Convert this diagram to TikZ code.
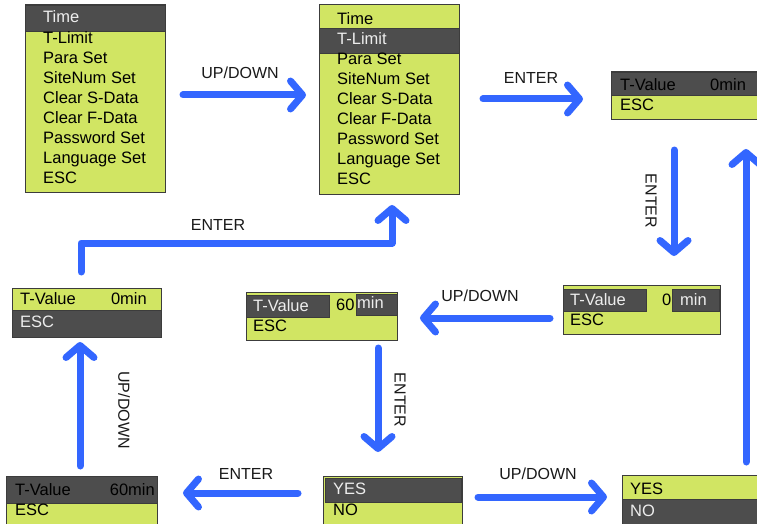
\documentclass[tikz,border=0pt]{standalone}
\usepackage{fontspec}
\setmainfont{Liberation Sans}
\usetikzlibrary{arrows.meta}
\definecolor{lcd}{RGB}{209,229,99}
\definecolor{band}{RGB}{77,77,77}
\definecolor{edge}{RGB}{60,60,60}
\definecolor{flowblue}{RGB}{51,102,255}
\tikzset{
  menubox/.style={fill=lcd,draw=edge,line width=1pt},
  darkband/.style={fill=band,draw=edge,line width=0.8pt},
  txt/.style={anchor=west,inner sep=0pt,text height=11.8pt,text depth=0pt,font=\fontsize{16.5}{19}\selectfont,text=black},
  wtxt/.style={txt,text=white!93!black},
  lbl/.style={inner sep=0pt,font=\fontsize{16}{19}\selectfont,text=black!90},
  flow/.style={draw=flowblue,line width=7pt,line cap=round,line join=round,
    -{Straight Barb[round,length=12pt,width=28pt]}},
}
\begin{document}
\begin{tikzpicture}[x=1pt,y=-1pt]
\clip (0,0) rectangle (757,524);
\fill[white] (0,0) rectangle (757,524);
% Box A
\filldraw[menubox] (25,5) rectangle (165,192);
\filldraw[darkband] (25,5) rectangle (165,31);
\node[wtxt] (a1) at (43,17) {Time};
\node[txt] (a2) at (43,38) {T-Limit};
\node[txt] (a3) at (43,58) {Para Set};
\node[txt] (a4) at (43,78) {SiteNum Set};
\node[txt] (a5) at (43,98) {Clear S-Data};
\node[txt] (a6) at (43,118) {Clear F-Data};
\node[txt] (a7) at (43,138) {Password Set};
\node[txt] (a8) at (43,158) {Language Set};
\node[txt] (a9) at (43,178) {ESC};
% Box B
\filldraw[menubox] (319,5) rectangle (459,194);
\filldraw[darkband] (319,28) rectangle (459,53);
\node[txt] (b1) at (337,19) {Time};
\node[wtxt] (b2) at (337,39) {T-Limit};
\node[txt] (b3) at (337,59) {Para Set};
\node[txt] (b4) at (337,79) {SiteNum Set};
\node[txt] (b5) at (337,99) {Clear S-Data};
\node[txt] (b6) at (337,119) {Clear F-Data};
\node[txt] (b7) at (337,139) {Password Set};
\node[txt] (b8) at (337,159) {Language Set};
\node[txt] (b9) at (337,179) {ESC};
% Box C
\filldraw[menubox] (611,72) rectangle (770,120);
\filldraw[darkband] (611,72) rectangle (770,95);
\node[txt] (c1) at (620,85) {T-Value};
\node[txt] (c2) at (710,85) {0min};
\node[txt] (c3) at (620,105) {ESC};
% Box D
\filldraw[menubox] (563,285) rectangle (720,334);
\filldraw[darkband] (563,289) rectangle (646,311);
\filldraw[darkband] (672,289) rectangle (719,311);
\node[wtxt] (d1) at (570,300) {T-Value};
\node[txt] (d2) at (662,300) {0};
\node[wtxt] (d3) at (680,300) {min};
\node[txt] (d4) at (570,320) {ESC};
% Box E
\filldraw[menubox] (246,292) rectangle (397,340);
\filldraw[darkband] (246,295) rectangle (329,317);
\filldraw[darkband] (356,294) rectangle (397,315);
\node[wtxt] (e1) at (253,306) {T-Value};
\node[txt] (e2) at (336,305) {60};
\node[wtxt] (e3) at (357,303) {min};
\node[txt] (e4) at (253,326) {ESC};
% Box F
\filldraw[menubox] (12,288) rectangle (161,337);
\filldraw[darkband] (12,310) rectangle (161,337);
\node[txt] (f1) at (20,299) {T-Value};
\node[txt,anchor=east] (f2) at (147,299) {0min};
\node[wtxt] (f3) at (20,322) {ESC};
% Box G
\filldraw[menubox] (6,476) rectangle (157,530);
\filldraw[darkband] (6,476) rectangle (157,503);
\node[txt] (g1) at (15,490) {T-Value};
\node[txt,anchor=east] (g2) at (155,490) {60min};
\node[txt] (g3) at (15,510) {ESC};
% Box H
\filldraw[menubox] (323,476) rectangle (462,530);
\filldraw[darkband] (325,478) rectangle (461,502);
\node[wtxt] (h1) at (333,489) {YES};
\node[txt] (h2) at (333,510) {NO};
% Box I
\filldraw[menubox] (622,475) rectangle (770,530);
\filldraw[darkband] (622,499) rectangle (770,530);
\node[txt] (i1) at (630,489) {YES};
\node[wtxt] (i2) at (630,511) {NO};
% arrow end points
\coordinate (p1s) at (183,95);  \coordinate (p1e) at (306,95);
\coordinate (p2s) at (483,99);  \coordinate (p2e) at (583,99);
\coordinate (p3s) at (674,150); \coordinate (p3e) at (674,256);
\coordinate (p4s) at (746,462); \coordinate (p4e) at (746,149);
\coordinate (p5s) at (550,318); \coordinate (p5e) at (420,318);
\coordinate (p6s) at (378,348); \coordinate (p6e) at (378,452);
\coordinate (p7s) at (478,497); \coordinate (p7e) at (607,497);
\coordinate (p8s) at (298,493); \coordinate (p8e) at (183,493);
\coordinate (p9s) at (80,466);  \coordinate (p9e) at (80,342);
\coordinate (p10s) at (81,272); \coordinate (p10m) at (392,243); \coordinate (p10e) at (392,205);
\draw[flow] (p1s) -- (p1e);
\draw[flow] (p2s) -- (p2e);
\draw[flow] (p3s) -- (p3e);
\draw[flow] (p4s) -- (p4e);
\draw[flow] (p5s) -- (p5e);
\draw[flow] (p6s) -- (p6e);
\draw[flow] (p7s) -- (p7e);
\draw[flow] (p8s) -- (p8e);
\draw[flow] (p9s) -- (p9e);
\draw[flow] (p10s) |- (p10m) -- (p10e);
% labels
\node[lbl] (l1) at (240,73) {UP/DOWN};
\node[lbl] (l2) at (531,78) {ENTER};
\node[lbl,rotate=-90] (l3) at (651,201) {ENTER};
\node[lbl] (l5) at (480,296) {UP/DOWN};
\node[lbl,rotate=-90] (l6) at (400,400) {ENTER};
\node[lbl] (l7) at (538,474) {UP/DOWN};
\node[lbl] (l8) at (246,474) {ENTER};
\node[lbl,rotate=-90] (l9) at (124,410) {UP/DOWN};
\node[lbl] (l10) at (218,225) {ENTER};
\end{tikzpicture}
\end{document}
